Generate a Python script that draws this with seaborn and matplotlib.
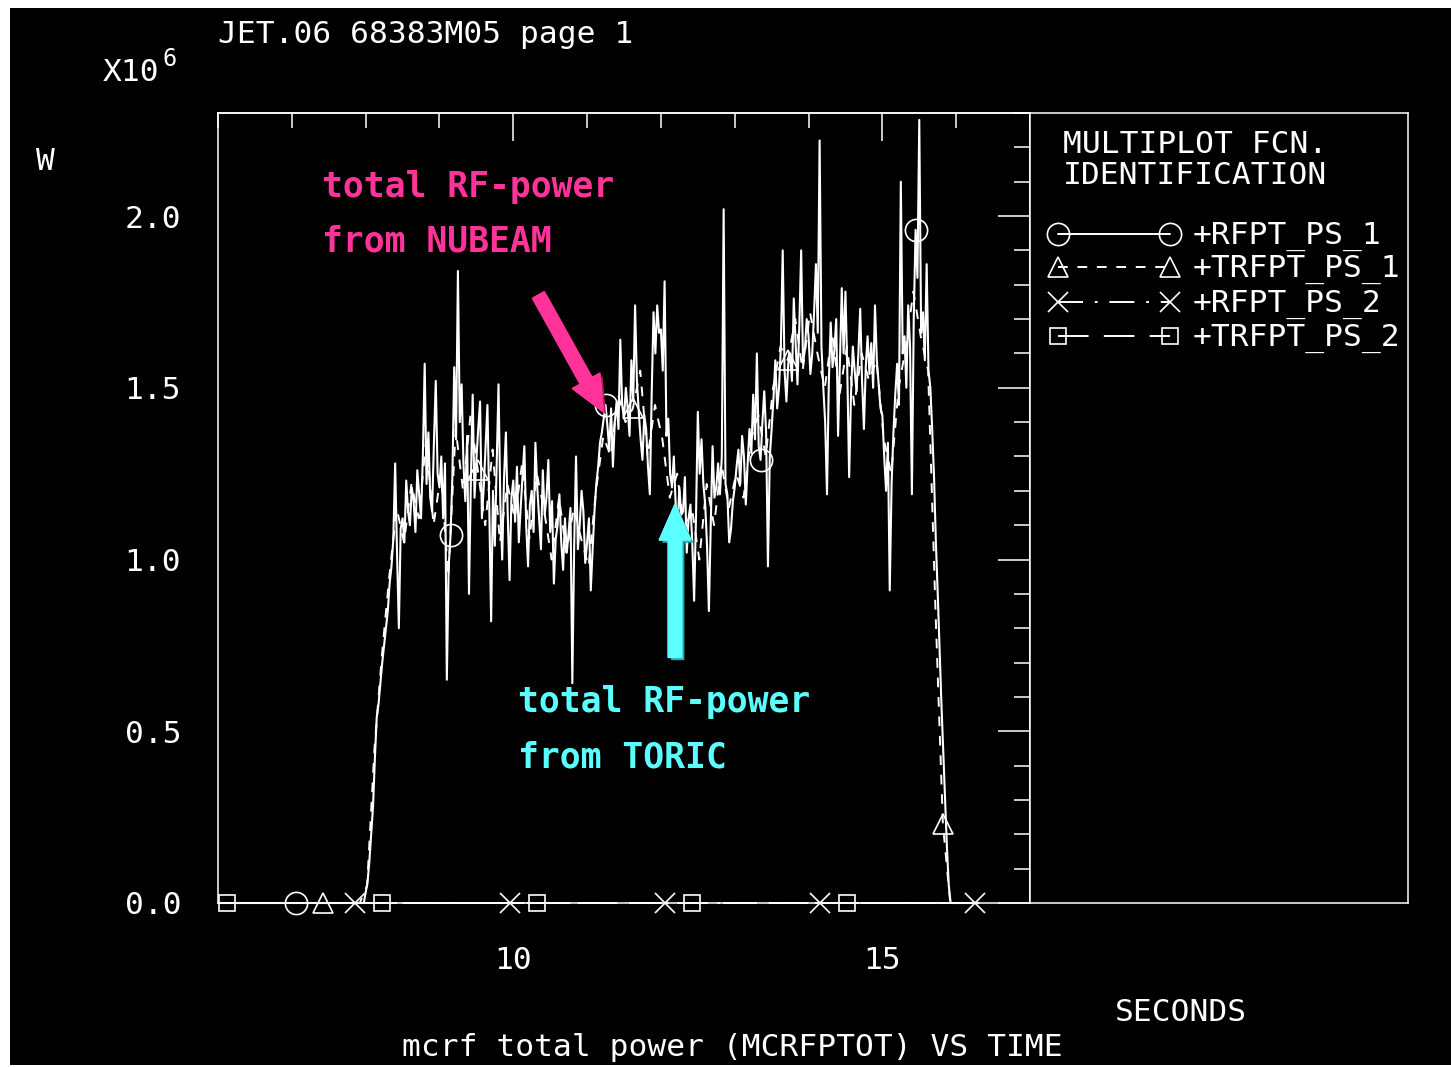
import numpy as np
import matplotlib
matplotlib.use("Agg")
import matplotlib.pyplot as plt
import matplotlib.patheffects as pe
from matplotlib.patches import Rectangle
from matplotlib.ticker import FixedLocator, NullFormatter
import seaborn as sns

W, H = 1451, 1067

# ---------------------------------------------------------------- data ----
# MCRF total power in units of 1e6 W, JET shot 68383 run M05

# RFPT_PS_* channels: sampled every 0.025 s from 6.000 s
rf_t0, rf_dt = 6.0, 0.025
rfpt_ps_1_zero_before = 80          # 6.000 s .. 7.975 s
rfpt_ps_1_active = [                # 8.000 s .. 15.900 s
    0.03, 0.06, 0.12, 0.20, 0.28, 0.42, 0.54, 0.58, 0.64, 0.70,
    0.75, 0.80, 0.85, 0.93, 0.98, 1.06, 1.28, 1.02, 0.80, 1.09,
    1.12, 1.05, 1.23, 1.14, 1.10, 1.21, 1.17, 1.08, 1.26, 1.19,
    1.12, 1.30, 1.57, 1.22, 1.37, 1.18, 1.14, 1.34, 1.52, 1.25,
    1.21, 1.30, 1.12, 1.28, 0.65, 0.98, 1.07, 1.24, 1.56, 1.35,
    1.84, 1.40, 1.51, 1.28, 1.17, 1.36, 0.90, 1.22, 1.48, 1.18,
    1.29, 1.38, 1.46, 1.12, 1.21, 1.33, 1.45, 1.15, 0.82, 1.20,
    1.04, 1.27, 1.51, 1.16, 1.00, 1.24, 1.37, 1.13, 0.94, 1.18,
    1.23, 1.11, 1.27, 1.05, 1.15, 1.24, 1.33, 1.10, 0.98, 1.16,
    1.20, 1.08, 1.34, 1.21, 1.12, 1.03, 1.26, 1.13, 1.18, 1.29,
    1.08, 1.17, 0.93, 1.06, 1.10, 1.19, 1.05, 0.97, 1.12, 1.02,
    1.08, 1.15, 0.64, 1.04, 1.30, 1.03, 1.10, 1.20, 1.14, 0.99,
    1.05, 1.12, 0.91, 1.03, 1.14, 1.22, 1.27, 1.34, 1.37, 1.41,
    1.45, 1.39, 1.32, 1.44, 1.27, 1.40, 1.46, 1.38, 1.64, 1.45,
    1.41, 1.50, 1.44, 1.36, 1.58, 1.46, 1.74, 1.52, 1.43, 1.35,
    1.29, 1.42, 1.38, 1.27, 1.19, 1.48, 1.72, 1.60, 1.74, 1.66,
    1.67, 1.55, 1.81, 1.36, 1.41, 1.25, 1.21, 1.30, 1.16, 1.09,
    1.21, 1.13, 1.14, 1.24, 1.02, 1.12, 1.16, 1.05, 0.88, 1.12,
    1.43, 1.25, 1.35, 1.22, 1.16, 1.04, 0.85, 1.10, 1.33, 1.18,
    1.21, 1.28, 1.19, 1.30, 2.02, 1.22, 1.19, 1.05, 1.09, 1.17,
    1.21, 1.27, 1.32, 1.22, 1.36, 1.30, 1.16, 1.28, 1.38, 1.31,
    1.48, 1.35, 1.60, 1.33, 1.29, 1.40, 1.49, 1.37, 0.98, 1.30,
    1.38, 1.47, 1.58, 1.44, 1.50, 1.62, 1.90, 1.55, 1.46, 1.57,
    1.60, 1.52, 1.76, 1.63, 1.51, 1.68, 1.90, 1.57, 1.61, 1.70,
    1.65, 1.54, 1.60, 1.72, 1.86, 1.66, 2.22, 1.62, 1.50, 1.40,
    1.19, 1.52, 1.69, 1.56, 1.61, 1.70, 1.36, 1.58, 1.79, 1.60,
    1.78, 1.55, 1.24, 1.48, 1.62, 1.55, 1.49, 1.60, 1.73, 1.52,
    1.38, 1.56, 1.65, 1.54, 1.63, 1.50, 1.74, 1.58, 1.51, 1.44,
    1.42, 1.30, 1.20, 1.34, 0.91, 1.22, 1.37, 1.48, 1.57, 1.45,
    2.10, 1.60, 1.65, 1.50, 1.74, 1.62, 1.19, 1.70, 1.96, 1.82,
    2.28, 1.66, 1.72, 1.58, 1.86, 1.55, 1.50, 1.38, 1.24, 1.05,
    0.90, 0.74, 0.58, 0.44, 0.30, 0.16, 0.05,
]
rfpt_ps_1_zero_after = 16           # 15.925 s .. 16.300 s

# TRFPT_PS_* channels: sampled every 0.1 s from 6.02 s
trf_t0, trf_dt = 6.02, 0.1
trfpt_ps_1_zero_before = 20         # 6.02 s .. 7.92 s
trfpt_ps_1_active = [               # 8.02 s .. 15.82 s
    0.05, 0.45, 0.72, 0.95, 1.15, 1.05, 1.22, 1.12, 1.35, 1.10,
    1.25, 0.95, 1.38, 1.20, 1.42, 1.26, 1.10, 1.32, 1.05, 1.22,
    1.12, 1.28, 1.06, 1.25, 1.14, 1.00, 1.18, 1.02, 1.15, 1.06,
    0.98, 1.20, 1.36, 1.30, 1.48, 1.40, 1.44, 1.55, 1.30, 1.45,
    1.35, 1.18, 1.25, 1.08, 1.15, 1.00, 1.22, 1.10, 1.28, 1.15,
    1.25, 1.18, 1.35, 1.42, 1.30, 1.50, 1.62, 1.58, 1.70, 1.55,
    1.72, 1.60, 1.50, 1.66, 1.48, 1.62, 1.45, 1.60, 1.52, 1.58,
    1.35, 1.25, 1.50, 1.62, 1.78, 1.65, 1.55, 0.85, 0.23,
]
trfpt_ps_1_zero_after = 4           # 15.92 s .. 16.22 s

series_names = ["+RFPT_PS_1", "+TRFPT_PS_1", "+RFPT_PS_2", "+TRFPT_PS_2"]
y_major = [0.0, 0.5, 1.0, 1.5, 2.0]
y_major_labels = ["0.0", "0.5", "1.0", "1.5", "2.0"]
y_minor = [round(0.1 * k, 1) for k in range(24)]
x_major = [10, 15]
x_major_labels = ["10", "15"]
x_minor = list(range(6, 18))

rfpt_ps_1 = np.concatenate([np.zeros(rfpt_ps_1_zero_before),
                            rfpt_ps_1_active,
                            np.zeros(rfpt_ps_1_zero_after)])
trfpt_ps_1 = np.concatenate([np.zeros(trfpt_ps_1_zero_before),
                             trfpt_ps_1_active,
                             np.zeros(trfpt_ps_1_zero_after)])
rf_time = rf_t0 + rf_dt * np.arange(len(rfpt_ps_1))
trf_time = trf_t0 + trf_dt * np.arange(len(trfpt_ps_1))
rfpt_ps_2 = np.zeros_like(rf_time)      # second antenna group switched off
trfpt_ps_2 = np.zeros_like(trf_time)

# ---------------------------------------------------------------- style ---
sns.set_theme(style="dark", rc={
    "axes.facecolor": "black",
    "figure.facecolor": "white",
    "text.color": "white",
    "axes.edgecolor": "white",
    "xtick.color": "white",
    "ytick.color": "white",
    "axes.grid": False,
    "lines.scale_dashes": False,
})
plt.rcParams["font.family"] = ["DejaVu Sans Mono", "DejaVu Sans"]

FS = 22.5
LW = 1.4
PINK = "#ff3399"
CYAN = "#5cffff"

DASH_TRI = (0, (7, 7))
DASH_X = (0, (18, 8.5, 2, 8.5))
DASH_SQ = (0, (22, 11))


def px(x, y):
    return x / W, 1 - y / H


fig = plt.figure(figsize=(W / 100, H / 100), dpi=100, facecolor="white")
fig.patches.append(Rectangle((10 / W, 2 / H), 1 - 10 / W, 1 - 10 / H,
                             transform=fig.transFigure, facecolor="black",
                             edgecolor="none", zorder=-5))

ax = fig.add_axes([218 / W, 1 - 903 / H, 812 / W, 790 / H])
ax.set_facecolor("black")

mk = dict(markerfacecolor="none", markeredgecolor="white", clip_on=False,
          estimator=None, sort=False, legend=False, color="white")

sns.lineplot(x=rf_time, y=rfpt_ps_2, ax=ax, linewidth=LW,
             linestyle=DASH_X, marker="x", markersize=14,
             markeredgewidth=1.2, markevery=slice(74, None, 84), **mk)
sns.lineplot(x=trf_time, y=trfpt_ps_2, ax=ax, linewidth=LW,
             linestyle=DASH_SQ, marker="s", markersize=12,
             markeredgewidth=1.2, markevery=slice(1, None, 21), **mk)
sns.lineplot(x=trf_time, y=trfpt_ps_1, ax=ax, linewidth=LW,
             linestyle=DASH_TRI, marker="^", markersize=14,
             markeredgewidth=1.2, markevery=slice(14, None, 21), **mk)
sns.lineplot(x=rf_time, y=rfpt_ps_1, ax=ax, linewidth=1.5,
             linestyle="-", marker="o", markersize=16,
             markeredgewidth=1.2, markevery=slice(42, None, 84), **mk)

ax.set_xlim(6, 17)
ax.set_ylim(0, 2.3)
ax.set_xlabel("")
ax.set_ylabel("")

# left / bottom axes: ticks pointing outwards, labelled
ax.set_yticks(y_major, labels=y_major_labels)
ax.yaxis.set_minor_locator(FixedLocator(y_minor))
ax.set_xticks(x_major, labels=x_major_labels)
ax.xaxis.set_minor_locator(FixedLocator(x_minor))
ax.tick_params(axis="y", which="major", direction="out", length=23,
               width=1.1, labelsize=FS, pad=3.5, right=False)
ax.tick_params(axis="y", which="minor", direction="out", length=11.5,
               width=1.1, right=False)
ax.tick_params(axis="x", which="major", direction="out", length=23,
               width=1.1, labelsize=FS, pad=8, top=False)
ax.tick_params(axis="x", which="minor", direction="out", length=12,
               width=1.1, top=False)
for s in ax.spines.values():
    s.set_color("white")
    s.set_linewidth(1.1)

# right / top axes: ticks pointing inwards, unlabelled
secy = ax.secondary_yaxis("right")
secy.set_yticks(y_major)
secy.yaxis.set_minor_locator(FixedLocator(y_minor))
secy.yaxis.set_major_formatter(NullFormatter())
secy.tick_params(which="major", direction="in", length=23, width=1.1)
secy.tick_params(which="minor", direction="in", length=11.5, width=1.1)
secy.spines["right"].set_color("white")
secy.spines["right"].set_linewidth(1.1)

secx = ax.secondary_xaxis("top")
secx.set_xticks(x_major)
secx.xaxis.set_minor_locator(FixedLocator(x_minor))
secx.xaxis.set_major_formatter(NullFormatter())
secx.tick_params(which="major", direction="in", length=20, width=1.1)
secx.tick_params(which="minor", direction="in", length=11, width=1.1)
secx.spines["top"].set_color("white")
secx.spines["top"].set_linewidth(1.1)

# ------------------------------------------------------------ legend box ---
lg = fig.add_axes([1030 / W, 1 - 903 / H, 378 / W, 790 / H])
lg.set_facecolor("black")
lg.set_xlim(1030, 1408)
lg.set_ylim(903, 113)
lg.set_xticks([])
lg.set_yticks([])
for s in lg.spines.values():
    s.set_color("white")
    s.set_linewidth(1.1)

legend_rows = [
    (234, "-", "o", 16),
    (267, DASH_TRI, "^", 14),
    (302, DASH_X, "x", 14),
    (336, DASH_SQ, "s", 12),
]
for (yrow, ls, m, ms), name in zip(legend_rows, series_names):
    lg.plot([1058, 1170], [yrow, yrow], color="white", linewidth=LW,
            linestyle=ls, marker=m, markersize=ms, markerfacecolor="none",
            markeredgecolor="white", markeredgewidth=1.2, clip_on=False)
    fig.text(*px(1193, yrow + 10), name, fontsize=FS, color="white",
             ha="left", va="baseline")

fig.text(*px(1063, 153), "MULTIPLOT FCN.", fontsize=FS, ha="left",
         va="baseline")
fig.text(*px(1063, 184), "IDENTIFICATION", fontsize=FS, ha="left",
         va="baseline")

# ----------------------------------------------------------- page texts ---
fig.text(*px(218, 43), "JET.06 68383M05 page 1", fontsize=FS, ha="left",
         va="baseline")
fig.text(*px(103, 81), "X10", fontsize=FS, ha="left", va="baseline")
fig.text(*px(163, 66), "6", fontsize=17, ha="left", va="baseline")
fig.text(*px(36, 170), "W", fontsize=FS, ha="left", va="baseline")
fig.text(*px(1115, 1021), "SECONDS", fontsize=FS, ha="left", va="baseline")
fig.text(*px(402, 1056), "mcrf total power (MCRFPTOT) VS TIME",
         fontsize=FS, ha="left", va="baseline")

# ------------------------------------------------------------ callouts ----
fig.text(*px(322, 197), "total RF-power", fontsize=25, fontweight="bold",
         color=PINK, ha="left", va="baseline")
fig.text(*px(322, 252), "from NUBEAM", fontsize=25, fontweight="bold",
         color=PINK, ha="left", va="baseline")
fig.text(*px(518, 712), "total RF-power", fontsize=25, fontweight="bold",
         color=CYAN, ha="left", va="baseline")
fig.text(*px(518, 768), "from TORIC", fontsize=25, fontweight="bold",
         color=CYAN, ha="left", va="baseline")

arrow_style = "simple,head_length=0.85,head_width=0.75,tail_width=0.32"
ax.annotate("", xy=(11.22, 1.43), xytext=(10.34, 1.77),
            arrowprops=dict(arrowstyle=arrow_style, mutation_scale=30,
                            color=PINK, shrinkA=0, shrinkB=0,
                            path_effects=[pe.withSimplePatchShadow(
                                offset=(2, -2), shadow_rgbFace="#b01a66",
                                alpha=1.0), pe.Normal()]))
ax.annotate("", xy=(12.19, 1.16), xytext=(12.19, 0.715),
            arrowprops=dict(arrowstyle=arrow_style, mutation_scale=30,
                            color=CYAN, shrinkA=0, shrinkB=0,
                            path_effects=[pe.withSimplePatchShadow(
                                offset=(2, -2), shadow_rgbFace="#2aa8a8",
                                alpha=1.0), pe.Normal()]))

fig.savefig("out.png", dpi=100, facecolor="white")
